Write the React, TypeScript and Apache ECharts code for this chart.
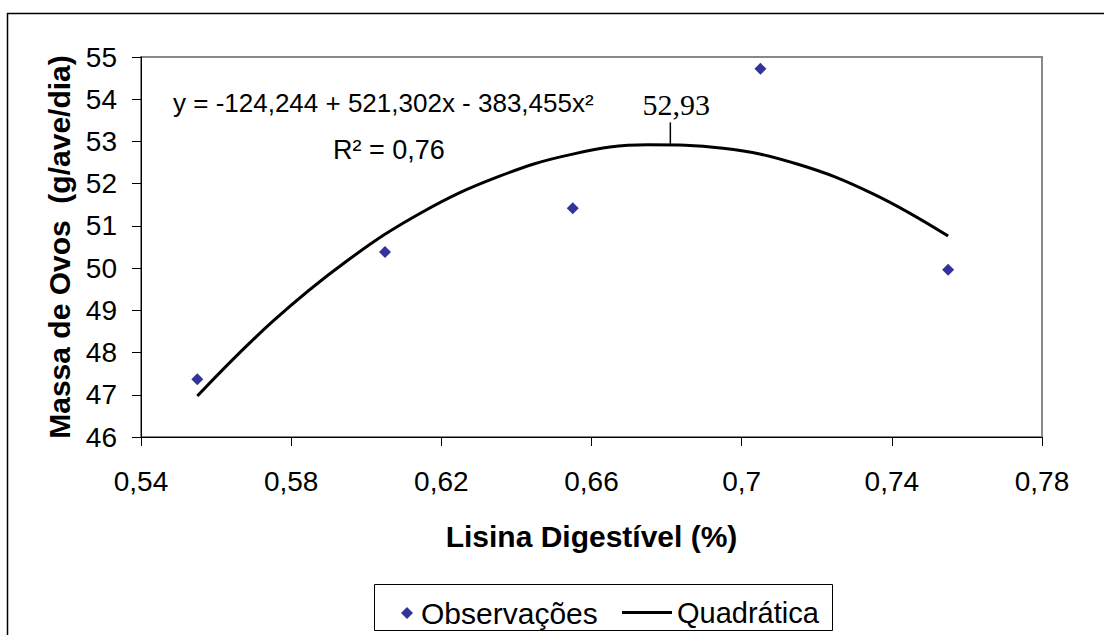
import React, { useEffect, useRef } from "react";
import * as echarts from "echarts";

const xTickValues = [0.54, 0.58, 0.62, 0.66, 0.7, 0.74, 0.78];
const obsX = [0.555, 0.605, 0.655, 0.705, 0.755];
const obsY = [47.37, 50.38, 51.42, 54.72, 49.96];
const curveX = [0.555, 0.575, 0.595, 0.615, 0.635, 0.655, 0.675, 0.695, 0.715, 0.735, 0.755];
const curveY = [46.97, 48.73, 50.18, 51.33, 52.16, 52.7, 52.92, 52.84, 52.46, 51.76, 50.76];
const peakPoint = [0.681, 52.93];
const peakLabel = "52,93";
const equationText = "y = -124,244 + 521,302x - 383,455x²";
const r2Text = "R² = 0,76";
const seriesNames = ["Observações", "Quadrática"];

const SANS = "'Liberation Sans', Arial, sans-serif";
const SERIF = "'Liberation Serif', 'Times New Roman', serif";

export default function App() {
  const ref = useRef<HTMLDivElement>(null);
  useEffect(() => {
    if (!ref.current) return;
    const chart = echarts.init(ref.current, undefined, { renderer: "svg" });
    const fmtX = (v: number) => String(Number(v.toFixed(2))).replace(".", ",");
    chart.setOption({
      animation: false,
      backgroundColor: "#ffffff",
      grid: {
        left: 141,
        right: 62,
        top: 57,
        bottom: 198,
        show: true,
        borderColor: "#888888",
        borderWidth: 2,
        outerBoundsMode: "none",
      },
      xAxis: {
        type: "value",
        min: 0.54,
        max: 0.78,
        name: "Lisina Digestível (%)",
        nameLocation: "middle",
        nameGap: 84,
        nameTextStyle: { fontFamily: SANS, fontSize: 30, fontWeight: "bold", color: "#000" },
        axisLine: { show: true, onZero: false, lineStyle: { color: "#000", width: 1 } },
        axisTick: { show: true, length: 9, lineStyle: { color: "#000" }, customValues: xTickValues },
        axisLabel: {
          margin: 30,
          fontFamily: SANS,
          fontSize: 28,
          color: "#000",
          customValues: xTickValues,
          formatter: fmtX,
        },
        splitLine: { show: false },
      },
      yAxis: {
        type: "value",
        min: 46,
        max: 55,
        interval: 1,
        name: "Massa de Ovos  (g/ave/dia)",
        nameLocation: "middle",
        nameGap: 67,
        nameTextStyle: { fontFamily: SANS, fontSize: 30, fontWeight: "bold", color: "#000" },
        axisLine: { show: true, onZero: false, lineStyle: { color: "#000", width: 1 } },
        axisTick: { show: true, length: 9, lineStyle: { color: "#000" } },
        axisLabel: { margin: 24, fontFamily: SANS, fontSize: 28, color: "#000" },
        splitLine: { show: false },
      },
      legend: [
        {
          data: [{ name: seriesNames[0], icon: "diamond" }],
          left: 401,
          top: 598,
          itemWidth: 12,
          itemHeight: 12,
          padding: 0,
          textStyle: { fontFamily: SANS, fontSize: 30, color: "#000", padding: [0, 0, 0, 3] },
        },
        {
          data: [{ name: seriesNames[1], icon: "rect" }],
          left: 622,
          top: 598,
          itemWidth: 50,
          itemHeight: 3,
          padding: 0,
          itemStyle: { color: "#000" },
          textStyle: { fontFamily: SANS, fontSize: 29, color: "#000" },
        },
      ],
      graphic: [
        {
          type: "rect",
          shape: { x: 7.5, y: 13.5, width: 1200, height: 700 },
          style: { fill: "none", stroke: "#000", lineWidth: 1.5 },
          silent: true,
          z: -10,
        },
        {
          type: "rect",
          shape: { x: 374.5, y: 584.5, width: 458, height: 46 },
          style: { fill: "none", stroke: "#000", lineWidth: 1 },
          silent: true,
        },
        {
          type: "text",
          x: 173,
          y: 103,
          style: {
            text: equationText,
            fontFamily: SANS,
            fontSize: 26,
            fill: "#000",
            verticalAlign: "middle",
          },
          silent: true,
        },
        {
          type: "text",
          x: 333,
          y: 150,
          style: {
            text: r2Text,
            fontFamily: SANS,
            fontSize: 27,
            fill: "#000",
            verticalAlign: "middle",
          },
          silent: true,
        },
      ],
      series: [
        {
          name: seriesNames[0],
          type: "scatter",
          symbol: "diamond",
          symbolSize: 12,
          itemStyle: { color: "#000080" },
          data: obsX.map((x, i) => [x, obsY[i]]),
          z: 3,
        },
        {
          name: seriesNames[1],
          type: "line",
          smooth: 0.4,
          showSymbol: false,
          symbol: "none",
          lineStyle: { color: "#000", width: 3 },
          itemStyle: { color: "#000" },
          data: curveX.map((x, i) => [x, curveY[i]]),
          markPoint: {
            silent: true,
            data: [
              {
                coord: peakPoint,
                symbol: "rect",
                symbolSize: [1.5, 22],
                symbolOffset: [0, -11],
                itemStyle: { color: "#000" },
                label: {
                  show: true,
                  position: "top",
                  distance: 3,
                  offset: [6, 0],
                  formatter: peakLabel,
                  fontFamily: SERIF,
                  fontSize: 30,
                  color: "#000",
                },
              },
            ],
          },
        },
      ],
    });
    return () => chart.dispose();
  }, []);
  return (
    <div
      ref={ref}
      style={{ position: "absolute", left: 0, top: 0, width: 1104, height: 635 }}
    />
  );
}
